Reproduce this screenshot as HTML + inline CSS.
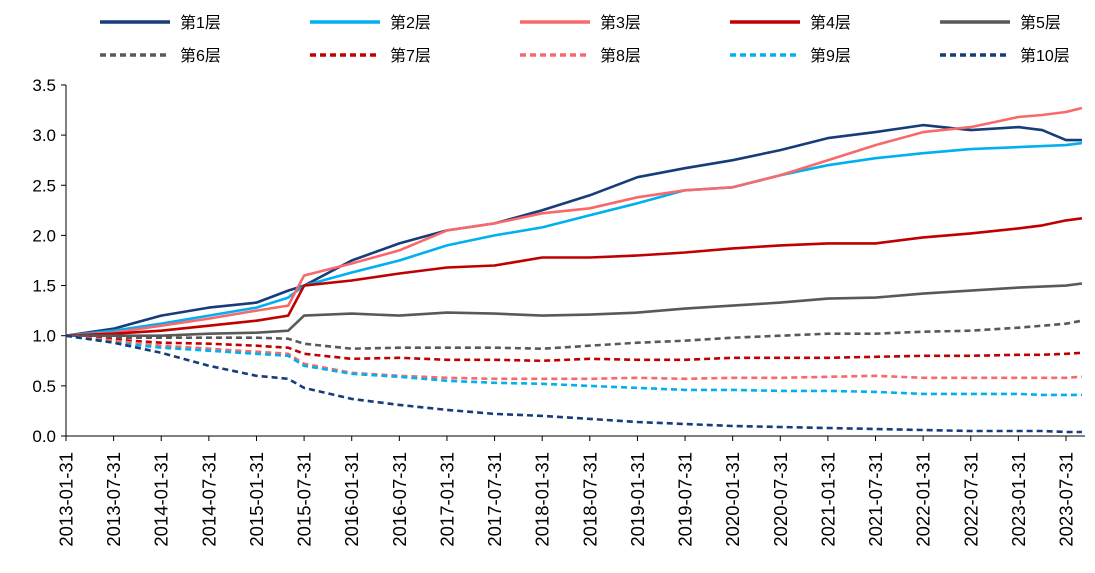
<!DOCTYPE html>
<html><head><meta charset="utf-8">
<style>
body{margin:0;background:#fff;}
svg{display:block;font-family:"Liberation Sans","Noto Sans CJK SC",sans-serif;}
</style></head>
<body>
<svg id="chart" width="1095" height="573"></svg>
<script>
const months = [0,6,12,18,24,28,30,36,42,48,54,60,66,72,78,84,90,96,102,108,114,120,123,126,128];
const s1 = [1.0,1.07,1.2,1.28,1.33,1.45,1.5,1.75,1.92,2.05,2.12,2.25,2.4,2.58,2.67,2.75,2.85,2.97,3.03,3.1,3.05,3.08,3.05,2.95,2.95];
const s2 = [1,1.05,1.12,1.2,1.28,1.38,1.5,1.63,1.75,1.9,2.0,2.08,2.2,2.32,2.45,2.48,2.6,2.7,2.77,2.82,2.86,2.88,2.89,2.9,2.92];
const s3 = [1,1.03,1.1,1.17,1.25,1.3,1.6,1.72,1.85,2.05,2.12,2.22,2.27,2.38,2.45,2.48,2.6,2.75,2.9,3.03,3.08,3.18,3.2,3.23,3.27];
const s4 = [1,1.02,1.05,1.1,1.15,1.2,1.5,1.55,1.62,1.68,1.7,1.78,1.78,1.8,1.83,1.87,1.9,1.92,1.92,1.98,2.02,2.07,2.1,2.15,2.17];
const s5 = [1,1.0,1.0,1.02,1.03,1.05,1.2,1.22,1.2,1.23,1.22,1.2,1.21,1.23,1.27,1.3,1.33,1.37,1.38,1.42,1.45,1.48,1.49,1.5,1.52];
const s6 = [1,0.98,0.98,0.98,0.98,0.97,0.92,0.87,0.88,0.88,0.88,0.87,0.9,0.93,0.95,0.98,1.0,1.02,1.02,1.04,1.05,1.08,1.1,1.12,1.15];
const s7 = [1,0.96,0.93,0.92,0.9,0.88,0.82,0.77,0.78,0.76,0.76,0.75,0.77,0.76,0.76,0.78,0.78,0.78,0.79,0.8,0.8,0.81,0.81,0.82,0.83];
const s8 = [1,0.95,0.9,0.87,0.84,0.82,0.72,0.63,0.6,0.58,0.57,0.57,0.57,0.58,0.57,0.58,0.58,0.59,0.6,0.58,0.58,0.58,0.58,0.58,0.59];
const s9 = [1,0.93,0.88,0.85,0.82,0.8,0.7,0.62,0.59,0.55,0.53,0.52,0.5,0.48,0.46,0.46,0.45,0.45,0.44,0.42,0.42,0.42,0.41,0.41,0.41];
const s10 = [1,0.93,0.83,0.7,0.6,0.57,0.48,0.37,0.31,0.26,0.22,0.2,0.17,0.14,0.12,0.1,0.09,0.08,0.07,0.06,0.05,0.05,0.05,0.04,0.04];
const seriesNames = ["第1层","第2层","第3层","第4层","第5层","第6层","第7层","第8层","第9层","第10层"];
const yTicks = [0,0.5,1,1.5,2,2.5,3,3.5];
const xTickLabels = ["2013-01-31","2013-07-31","2014-01-31","2014-07-31","2015-01-31","2015-07-31","2016-01-31","2016-07-31","2017-01-31","2017-07-31","2018-01-31","2018-07-31","2019-01-31","2019-07-31","2020-01-31","2020-07-31","2021-01-31","2021-07-31","2022-01-31","2022-07-31","2023-01-31","2023-07-31"];

const NS="http://www.w3.org/2000/svg";
const svg=document.getElementById('chart');
const X=m=>66+m*(1000/126);
const Y=v=>436-v*100.3;
function mk(t,a,p){const e=document.createElementNS(NS,t);for(const k in a)e.setAttribute(k,a[k]);(p||svg).appendChild(e);return e;}
const data=[s1,s2,s3,s4,s5,s6,s7,s8,s9,s10];
const colors=["#173c7a","#00b0f0","#f8696b","#c00000","#595959","#595959","#c00000","#f8696b","#00b0f0","#173c7a"];
const ax=mk('line',{x1:66,y1:436,x2:1085,y2:436,stroke:'#000','stroke-width':1});

const ay=mk('line',{x1:66,y1:85,x2:66,y2:436,stroke:'#000','stroke-width':1});

yTicks.forEach(v=>{
  mk('line',{x1:61,y1:Y(v),x2:66,y2:Y(v),stroke:'#000'});
  const t=mk('text',{x:56,y:Y(v)+6,'text-anchor':'end','font-size':17,fill:'#000'});
  t.textContent=v.toFixed(1);
  
});
xTickLabels.forEach((l,i)=>{
  const x=X(i*6);
  mk('line',{x1:x,y1:436,x2:x,y2:441,stroke:'#000'});
  const t=mk('text',{x:0,y:0,'text-anchor':'end','font-size':18.5,fill:'#000',transform:`translate(${x+6.5},452) rotate(-90)`});
  t.textContent=l;
  
});
data.forEach((s,i)=>{
  const d=s.map((v,j)=>(j?'L':'M')+X(months[j]).toFixed(1)+','+Y(v).toFixed(1)).join('');
  const p=mk('path',{d,fill:'none',stroke:colors[i],'stroke-width':2.6,'stroke-linejoin':'round'});
  if(i>=5)p.setAttribute('stroke-dasharray','6,4');
  
  
});
seriesNames.forEach((n,i)=>{
  const row=Math.floor(i/5),col=i%5;
  const x=100+col*210,y=22+row*33;
  const g=mk('g',{});
  
  
  const l=mk('line',{x1:x,y1:y,x2:x+70,y2:y,stroke:colors[i],'stroke-width':3.5},g);
  if(i>=5)l.setAttribute('stroke-dasharray','6,4');
  const t=mk('text',{x:x+80,y:y+6,'font-size':16,fill:'#000'},g);
  t.textContent=n;
});
</script>
</body></html>
